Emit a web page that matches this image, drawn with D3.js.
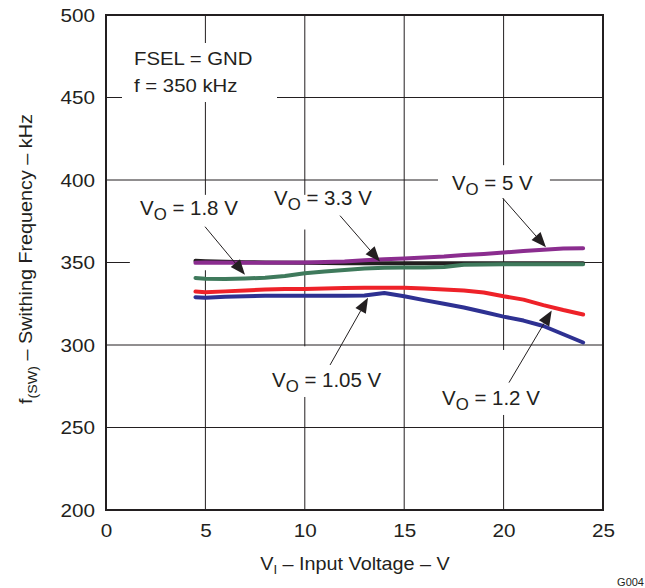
<!DOCTYPE html>
<html><head><meta charset="utf-8">
<script src="https://cdn.jsdelivr.net/npm/d3@7"></script>
<style>
html,body{margin:0;padding:0;background:#fff;}
text{font-family:"Liberation Sans",Arial,Helvetica,sans-serif;fill:#231f20;}
</style></head>
<body>
<svg id="chart" width="645" height="588"></svg>
<script>
// ---- data ----
const xTicks = [0, 5, 10, 15, 20, 25];
const yTicks = [200, 250, 300, 350, 400, 450, 500];

const vo33X = [4.5, 5, 6, 7, 8, 10, 12, 14, 16, 18, 20, 22, 24];
const vo33Y = [351, 350.8, 350.5, 350.2, 350, 349.8, 349.6, 349.5, 349.5, 349.5, 349.5, 349.5, 349.5];

const vo18X = [4.5, 5, 6, 7, 8, 9, 10, 11, 12, 13, 14, 15, 16, 17, 18, 20, 22, 24];
const vo18Y = [340.6, 340.2, 340, 340.3, 340.8, 341.8, 343.5, 344.6, 345.4, 346.3, 346.8, 347, 347, 347.3, 348.6, 349, 349, 349];

const vo12X = [4.5, 5, 6, 7, 8, 9, 10, 11, 12, 13, 14, 15, 16, 17, 18, 19, 20, 21, 22, 23, 24];
const vo12Y = [332.4, 332, 332.5, 333, 333.6, 334, 334, 334.2, 334.6, 334.7, 334.7, 334.7, 334.2, 333.6, 333, 331.8, 329.5, 327.5, 324.2, 321.2, 318.5];

const vo105X = [4.5, 5, 6, 7, 8, 10, 12, 13, 14, 15, 16, 17, 18, 19, 20, 21, 22, 23, 24];
const vo105Y = [329, 328.6, 329.2, 329.6, 329.8, 329.8, 329.8, 330, 331.5, 329.5, 327.2, 325, 322.7, 320, 317.2, 314.8, 311.5, 306.5, 301.5];

const vo5X = [4.5, 5, 7, 10, 12, 13, 14, 15, 16, 17, 18, 19, 20, 21, 22, 23, 24];
const vo5Y = [349.8, 350, 349.8, 350, 350.6, 351.3, 352, 352.4, 353, 353.6, 354.5, 355.2, 356, 357, 357.8, 358.5, 358.6];

const seriesNames = ["VO = 3.3 V", "VO = 1.8 V", "VO = 1.2 V", "VO = 1.05 V", "VO = 5 V"];
const seriesColors = ["#231f20", "#3f7a5c", "#ee2229", "#2e3192", "#8b2d8f"];

// annotation labels (data coordinates): text anchor, arrow start, arrow tip
const annoSub = ["1.8 V", "3.3 V", "5 V", "1.05 V", "1.2 V"];
const annoText = [[1.71, 378.8], [8.45, 384.9], [17.4, 393.9], [8.35, 274.7], [16.9, 263.7]];
const annoFrom = [[4.98, 371.7], [11.77, 378.4], [19.95, 389.1], [11.27, 287.9], [20.27, 277.2]];
const annoTip  = [[6.99, 342.6], [13.78, 350.6], [22.13, 359.2], [13.18, 328.6], [22.42, 320.9]];
const annoBox  = [[1.2, 6.99, 391, 345.3], [8.0, 13.7, 391, 370], [16.7, 22.33, 409, 388.7], [7.85, 14.04, 299.2, 268.5], [16.4, 22.2, 297, 257.6]];

// ---- chart ----
const svg = d3.select("#chart");
const L = 106, R = 603, T = 15, B = 510;
const x = d3.scaleLinear().domain([0, 25]).range([L, R]);
const y = d3.scaleLinear().domain([200, 500]).range([B, T]);
const SX = 1.15;

// grid
const grid = svg.append("g");
grid.selectAll("line.v").data(xTicks.slice(1, -1)).join("line")
  .attr("x1", d => x(d)).attr("x2", d => x(d)).attr("y1", T).attr("y2", B)
  .attr("stroke", "#231f20").attr("stroke-width", 1);
grid.selectAll("line.h").data(yTicks.slice(1, -1)).join("line")
  .attr("x1", L).attr("x2", R).attr("y1", d => y(d)).attr("y2", d => y(d))
  .attr("stroke", "#231f20").attr("stroke-width", 1);

// axes (labels only)
const xAxis = svg.append("g").attr("transform", `translate(0,${B})`)
  .call(d3.axisBottom(x).tickValues(xTicks).tickSize(0).tickPadding(14).tickFormat(d3.format("d")));
xAxis.select(".domain").remove();
xAxis.selectAll("text").attr("font-size", 18).attr("fill", "#231f20")
  .attr("font-family", "Liberation Sans, Arial, sans-serif")
  .attr("transform", `scale(${SX},1)`);

const yAxis = svg.append("g").attr("transform", `translate(${L},0)`)
  .call(d3.axisLeft(y).tickValues(yTicks).tickSize(0).tickPadding(11).tickFormat(d3.format("d")));
yAxis.select(".domain").remove();
yAxis.selectAll("text").attr("font-size", 18).attr("fill", "#231f20")
  .attr("font-family", "Liberation Sans, Arial, sans-serif")
  .attr("x", -11 / SX).attr("dy", "0.36em")
  .attr("transform", `scale(${SX},1)`);

// FSEL box
const info = svg.append("g");
info.append("rect").attr("x", 122).attr("y", 43).attr("width", 155).attr("height", 59).attr("fill", "#fff");
const infoLines = ["FSEL = GND", "f = 350 kHz"];
infoLines.forEach((s, i) => {
  info.append("text").attr("transform", `translate(134,${65 + i * 26.7}) scale(1.1,1)`)
    .attr("font-size", 18.5).text(s);
});

// annotation white boxes
const boxes = svg.append("g");
annoBox.forEach(b => {
  boxes.append("rect").attr("x", x(b[0])).attr("y", y(b[2]))
    .attr("width", x(b[1]) - x(b[0])).attr("height", y(b[3]) - y(b[2])).attr("fill", "#fff");
});

// frame
svg.append("rect").attr("x", L).attr("y", T).attr("width", R - L).attr("height", B - T)
  .attr("fill", "none").attr("stroke", "#231f20").attr("stroke-width", 2);

// curves
const line = d3.line().x(d => x(d[0])).y(d => y(d[1]));
const seriesX = [vo33X, vo18X, vo12X, vo105X, vo5X];
const seriesY = [vo33Y, vo18Y, vo12Y, vo105Y, vo5Y];
seriesX.forEach((xs, i) => {
  const pts = xs.map((v, j) => [v, seriesY[i][j]]);
  svg.append("path").datum(pts).attr("d", line)
    .attr("fill", "none").attr("stroke", seriesColors[i]).attr("stroke-width", 4)
    .attr("stroke-linejoin", "round").attr("stroke-linecap", "round")
    .attr("class", "series").attr("data-name", seriesNames[i]);
});

// annotations
const ann = svg.append("g");
annoSub.forEach((s, i) => {
  const x0 = x(annoFrom[i][0]), y0 = y(annoFrom[i][1]);
  const x1 = x(annoTip[i][0]), y1 = y(annoTip[i][1]);
  const ang = Math.atan2(y1 - y0, x1 - x0);
  const hl = 15, hw = 6;
  const bx = x1 - hl * Math.cos(ang), by = y1 - hl * Math.sin(ang);
  ann.append("line").attr("x1", x0).attr("y1", y0).attr("x2", bx).attr("y2", by)
    .attr("stroke", "#231f20").attr("stroke-width", 1);
  const pts = [[x1, y1],
    [bx + hw * Math.sin(ang), by - hw * Math.cos(ang)],
    [bx - hw * Math.sin(ang), by + hw * Math.cos(ang)]];
  ann.append("polygon").attr("points", pts.map(p => p.join(",")).join(" ")).attr("fill", "#231f20");
  const t = ann.append("text").attr("transform", `translate(${x(annoText[i][0])},${y(annoText[i][1])}) scale(1.05,1)`)
    .attr("font-size", 19.5);
  t.append("tspan").text("V");
  t.append("tspan").attr("font-size", 16).attr("dy", 5).text("O");
  t.append("tspan").attr("dy", -5).text(" = " + s);
});

// axis titles
const xt = svg.append("text").attr("transform", `translate(355,570) scale(1.1,1)`)
  .attr("text-anchor", "middle").attr("font-size", 18);
xt.append("tspan").text("V");
xt.append("tspan").attr("font-size", 12).attr("dy", 4).text("I");
xt.append("tspan").attr("dy", -4).text(" – Input Voltage – V");

const yt = svg.append("text").attr("transform", `translate(32,259) rotate(-90) scale(1.1,1)`)
  .attr("text-anchor", "middle").attr("font-size", 18);
yt.append("tspan").text("f");
yt.append("tspan").attr("font-size", 13).attr("dy", 5).text("(SW)");
yt.append("tspan").attr("dy", -5).text(" – Swithing Frequency – kHz");

svg.append("text").attr("x", 644).attr("y", 585.7).attr("text-anchor", "end")
  .attr("font-size", 11).text("G004");
</script>
</body></html>
